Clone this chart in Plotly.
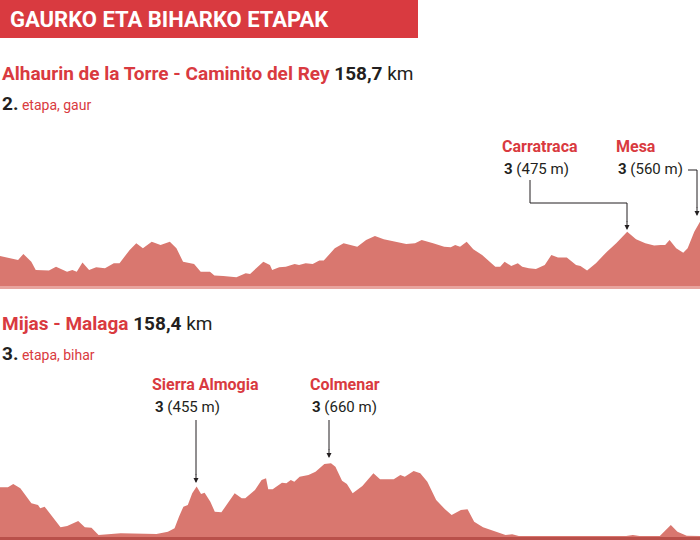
import plotly.graph_objects as go

# stage 2 profile: distance (km) and elevation (m)
stage2_km = [0, 4.1, 5.3, 7.1, 8.1, 11.1, 12.7, 15.2, 16.4, 17.4, 18.7, 20.2, 21.8, 23.8, 25.8, 27.1, 29.4, 30.9,
             32.4, 34.4, 36.4, 38.5, 40.0, 41.5, 44.0, 45.5, 47.6, 48.6, 50.6, 53.6, 55.7, 56.7, 59.7, 61.2, 61.7,
             63.3, 64.8, 66.8, 67.8, 69.3, 70.9, 72.4, 73.4, 75.9, 77.9, 81.0, 83.0, 85.0, 87.0, 88.6, 90.1, 92.1,
             94.1, 95.6, 98.2, 100.7, 102.2, 103.2, 104.3, 105.8, 107.3, 109.3, 112.3, 113.4, 114.4, 115.9, 117.4,
             118.4, 119.9, 121.5, 123.5, 125.0, 126.5, 128.5, 130.6, 131.6, 133.1, 135.1, 137.6, 139.7, 142.2,
             144.2, 146.3, 148.3, 149.8, 150.8, 151.8, 153.3, 154.9, 155.9, 157.4, 158.7]
stage2_ele = [267, 232, 284, 218, 146, 141, 175, 132, 146, 132, 210, 146, 169, 161, 204, 204, 319, 376, 333,
              390, 362, 390, 333, 218, 198, 132, 132, 98, 95, 83, 118, 112, 218, 189, 146, 169, 175, 198, 189,
              204, 198, 227, 227, 333, 376, 347, 405, 439, 410, 399, 390, 370, 376, 405, 376, 347, 341, 362,
              347, 390, 324, 276, 175, 175, 218, 181, 204, 175, 161, 155, 189, 276, 253, 253, 189, 181, 141,
              204, 304, 376, 475, 410, 376, 356, 362, 362, 405, 333, 295, 333, 476, 560]

# stage 3 profile
stage3_km = [0, 1.8, 3.0, 4.6, 7.1, 8.6, 9.1, 10.1, 13.7, 15.2, 17.7, 19.2, 20.7, 22.3, 27.3, 35.4, 38.0, 39.5,
             40.5, 41.5, 42.5, 43.5, 44.5, 45.5, 46.3, 47.6, 48.6, 50.1, 53.1, 54.7, 55.5, 56.7, 57.7, 59.2,
             60.2, 60.7, 61.7, 63.8, 64.8, 65.8, 66.6, 67.8, 69.8, 71.4, 73.4, 74.9, 75.9, 77.4, 78.5, 79.8,
             82.0, 84.5, 86.0, 89.1, 90.6, 91.6, 93.6, 95.1, 96.7, 98.7, 100.7, 102.2, 104.3, 105.8, 107.3,
             109.3, 114.4, 115.9, 117.4, 141.7, 143.2, 144.7, 149.3, 151.8, 153.3, 155.4, 158.4]
stage3_ele = [447, 447, 477, 438, 303, 288, 258, 273, 87, 99, 144, 87, 84, 18, 33, 27, 48, 78, 183, 273, 288,
              393, 455, 387, 399, 318, 228, 222, 393, 348, 348, 387, 423, 513, 528, 429, 429, 489, 483, 513,
              498, 543, 558, 588, 657, 663, 633, 507, 477, 393, 459, 573, 519, 519, 558, 543, 594, 573, 498,
              333, 249, 198, 243, 249, 138, 87, 18, 24, 9, 9, 18, 9, 9, 108, 48, 12, 9]

W, H = 700, 540
fill = "#d9776f"
red = "#d93a40"
dark = "#231f20"


def px(x):
    return x / W


def py(y):
    return 1 - y / H


fig = go.Figure()
fig.add_trace(go.Scatter(x=stage2_km, y=stage2_ele, fill="tozeroy", mode="lines",
                         line=dict(width=0, color=fill), fillcolor=fill, xaxis="x", yaxis="y"))
fig.add_trace(go.Scatter(x=stage3_km, y=stage3_ele, fill="tozeroy", mode="lines",
                         line=dict(width=0, color=fill), fillcolor=fill, xaxis="x2", yaxis="y2"))

ax = dict(visible=False, showgrid=False, zeroline=False, fixedrange=True)
fig.update_layout(
    width=W, height=H, margin=dict(l=0, r=0, t=0, b=0), showlegend=False,
    paper_bgcolor="white", plot_bgcolor="rgba(0,0,0,0)",
    font=dict(family="Roboto, Arial", color=dark),
    xaxis=dict(ax, domain=[0, 1], range=[0, 158.7]),
    yaxis=dict(ax, domain=[py(287), py(120)], range=[0, 1436]),
    xaxis2=dict(ax, domain=[0, 1], range=[0, 158.4], anchor="y2"),
    yaxis2=dict(ax, domain=[py(537), py(380)], range=[0, 1413]),
)

shapes = [
    dict(type="rect", xref="paper", yref="paper", x0=0, x1=px(418), y0=py(38), y1=1,
         fillcolor=red, line_width=0),
    dict(type="rect", xref="paper", yref="paper", x0=0, x1=1, y0=py(289), y1=py(286),
         fillcolor="#e8a49e", line_width=0),
    dict(type="rect", xref="paper", yref="paper", x0=0, x1=1, y0=0, y1=py(537),
         fillcolor="#b9504a", line_width=0),
]
# elbow leader lines
lines = [[(530, 180), (530, 203), (627, 203), (627, 222)],
         [(688, 170), (697, 170), (697, 208)],
         [(196, 420), (196, 475)],
         [(329, 420), (329, 450)]]
for pts in lines:
    for (a, b), (c, d) in zip(pts[:-1], pts[1:]):
        shapes.append(dict(type="line", xref="paper", yref="paper", x0=px(a), y0=py(b), x1=px(c), y1=py(d),
                           line=dict(color=dark, width=1)))
fig.update_layout(shapes=shapes)


def text(x, y, s, size, color=dark, anchor="left"):
    fig.add_annotation(x=px(x), y=py(y), xref="paper", yref="paper", text=s, showarrow=False,
                       xanchor=anchor, yanchor="middle", font=dict(size=size, color=color))


def arrow(x, y):
    fig.add_annotation(x=px(x), y=py(y), xref="paper", yref="paper", ax=0, ay=-10, text="",
                       showarrow=True, arrowhead=2, arrowsize=1, arrowwidth=1, arrowcolor=dark)


text(8, 19, "<b>GAURKO ETA BIHARKO ETAPAK</b>", 22, "white")
text(0, 73, "<b>Alhaurin de la Torre - Caminito del Rey</b> <span style='color:%s'><b>158,7</b> km</span>" % dark,
     19, red)
text(0, 103, "<b>2.</b><span style='color:%s;font-size:14px'> etapa, gaur</span>" % red, 19, dark)
text(0, 323, "<b>Mijas - Malaga</b> <span style='color:%s'><b>158,4</b> km</span>" % dark, 19, red)
text(0, 353, "<b>3.</b><span style='color:%s;font-size:14px'> etapa, bihar</span>" % red, 19, dark)

text(500, 146, "<b>Carratraca</b>", 16, red)
text(502, 169, "<b>3</b> (475 m)", 15)
text(614, 146, "<b>Mesa</b>", 16, red)
text(616, 169, "<b>3</b> (560 m)", 15)
text(150, 384, "<b>Sierra Almogia</b>", 16, red)
text(153, 407, "<b>3</b> (455 m)", 15)
text(308, 384, "<b>Colmenar</b>", 16, red)
text(310, 407, "<b>3</b> (660 m)", 15)

arrow(627, 230)
arrow(697, 216)
arrow(196, 483)
arrow(329, 458)

fig.write_html("out.html", config={"displayModeBar": False},
               post_script="document.body.style.margin='0';")
